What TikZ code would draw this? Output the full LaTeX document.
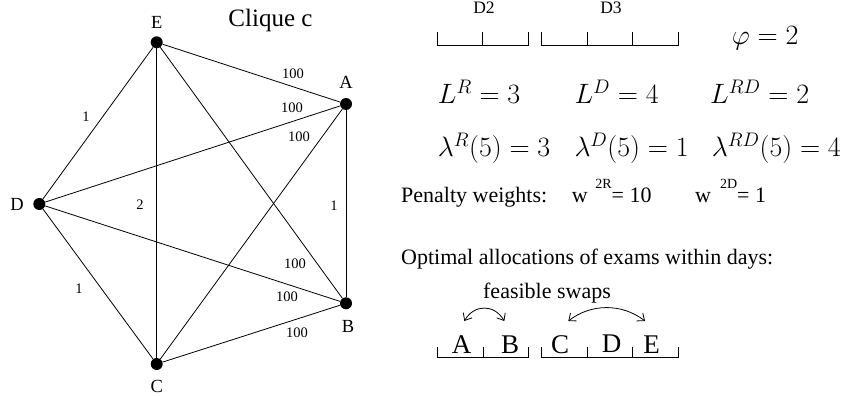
\RequirePackage{fix-cm}
\documentclass[tikz,border=0pt]{standalone}
\usepackage{fontspec}
\setmainfont{Liberation Serif}
\usetikzlibrary{arrows.meta}
\tikzset{
  dot/.style={circle,fill=black,minimum size=12pt,inner sep=0pt},
  vlab/.style={font=\fontsize{18.5}{20}\selectfont,inner sep=0pt},
  elab/.style={font=\fontsize{14.5}{16}\selectfont,inner sep=0pt},
  edge/.style={line width=0.8pt},
  txt/.style={font=\fontsize{22}{24}\selectfont,inner sep=0pt,anchor=base west},
  mth/.style={font=\fontsize{28}{30}\selectfont,inner sep=0pt,anchor=base west},
  big/.style={font=\fontsize{27}{28}\selectfont,inner sep=0pt,anchor=base},
  daylab/.style={font=\fontsize{17.5}{19}\selectfont,inner sep=0pt,anchor=base},
  brk/.style={line width=0.8pt},
  swap/.style={line width=0.8pt,{Straight Barb[length=6pt,width=10pt]}-{Straight Barb[length=6pt,width=10pt]}}
}
\begin{document}
\begin{tikzpicture}[x=1pt,y=-1pt]
\useasboundingbox (0,0) rectangle (846,396);
% graph vertices
\node[dot] (E) at (156.7,42.3) {};
\node[dot] (A) at (346,104) {};
\node[dot] (D) at (39.3,204) {};
\node[dot] (B) at (346,303.3) {};
\node[dot] (C) at (156.7,364) {};
\node[vlab] (lE) at (156.7,22) {E};
\node[vlab] (lA) at (346,82) {A};
\node[vlab] (lD) at (17,204) {D};
\node[vlab] (lB) at (348,326.7) {B};
\node[vlab] (lC) at (156.7,386) {C};
\node[font=\fontsize{25}{27}\selectfont,inner sep=0pt,anchor=base] (title) at (270.5,26.7) {Clique c};
% edges
\draw[edge] (E) -- (A);
\draw[edge] (E) -- (D);
\draw[edge] (E) -- (C);
\draw[edge] (E) -- (B);
\draw[edge] (A) -- (D);
\draw[edge] (A) -- (C);
\draw[edge] (A) -- (B);
\draw[edge] (D) -- (B);
\draw[edge] (D) -- (C);
\draw[edge] (C) -- (B);
% edge labels
\node[elab] (wEA) at (293,74) {100};
\node[elab] (wDA) at (292,108) {100};
\node[elab] (wCA) at (299,137) {100};
\node[elab] (wED) at (86,117) {1};
\node[elab] (wEC) at (140,205) {2};
\node[elab] (wAB) at (334,206) {1};
\node[elab] (wEB) at (295,264) {100};
\node[elab] (wDB) at (287,297) {100};
\node[elab] (wCB) at (297,333) {100};
\node[elab] (wDC) at (79,289) {1};
% top brackets
\node[daylab] (d2) at (484,13.3) {D2};
\node[daylab] (d3) at (611,13.3) {D3};
\draw[brk] (437.7,31.7) -- (437.7,45) -- (528.3,45) -- (528.3,31.7);
\draw[brk] (482.5,31.7) -- (482.5,45);
\draw[brk] (541.7,31.7) -- (541.7,45) -- (678.3,45) -- (678.3,31.7);
\draw[brk] (587.3,31.7) -- (587.3,45);
\draw[brk] (632.5,31.7) -- (632.5,45);
\node[mth] (phi) at (731.7,44.3) {$\varphi = 2$};
% parameters
\node[mth] (LR) at (437.7,103.3) {$L^R = 3$};
\node[mth] (LD) at (574.3,103.3) {$L^D = 4$};
\node[mth] (LRD) at (710,103.3) {$L^{RD} = 2$};
\node[mth] (lamR) at (437.7,156.7) {$\lambda^R(5) = 3$};
\node[mth] (lamD) at (574.3,156.7) {$\lambda^D(5) = 1$};
\node[mth] (lamRD) at (711.7,156.7) {$\lambda^{RD}(5) = 4$};
% penalty
\node[txt] (pen) at (401,202.3) {Penalty weights:};
\node[txt] (w2r) at (571.7,202.3) {w\hspace{7.5pt}\raisebox{13.5pt}{\fontsize{14}{14}\selectfont 2R}= 10};
\node[txt] (w2d) at (695,202.3) {w\hspace{9pt}\raisebox{13.5pt}{\fontsize{14}{14}\selectfont 2D}= 1};
\node[txt] (opt) at (401,264.3) {Optimal allocations of exams within days:};
\node[txt,anchor=base] (fs) at (547,298.3) {feasible swaps};
% swaps
\coordinate (s1a) at (464.3,321);
\coordinate (s1b) at (504.3,321);
\coordinate (s2a) at (568.3,321);
\coordinate (s2b) at (645,321);
\draw[swap] (s1a) .. controls (474.3,304) and (494.3,304) .. (s1b);
\draw[swap] (s2a) .. controls (591.3,303.3) and (622,303.3) .. (s2b);
% bottom allocation
\node[big] (xA) at (461.7,353.3) {A};
\node[big] (xB) at (510,353.3) {B};
\node[big] (xC) at (560,353.3) {C};
\node[big] (xD) at (611.7,352) {D};
\node[big] (xE) at (651.7,353.3) {E};
\draw[brk] (437.5,346.7) -- (437.5,357.7) -- (528.3,357.7) -- (528.3,346.7);
\draw[brk] (483.3,346.7) -- (483.3,357.7);
\draw[brk] (541.7,346.7) -- (541.7,357.7) -- (678.3,357.7) -- (678.3,346.7);
\draw[brk] (587.3,346.7) -- (587.3,357.7);
\draw[brk] (632.7,346.7) -- (632.7,357.7);
\end{tikzpicture}
\end{document}
